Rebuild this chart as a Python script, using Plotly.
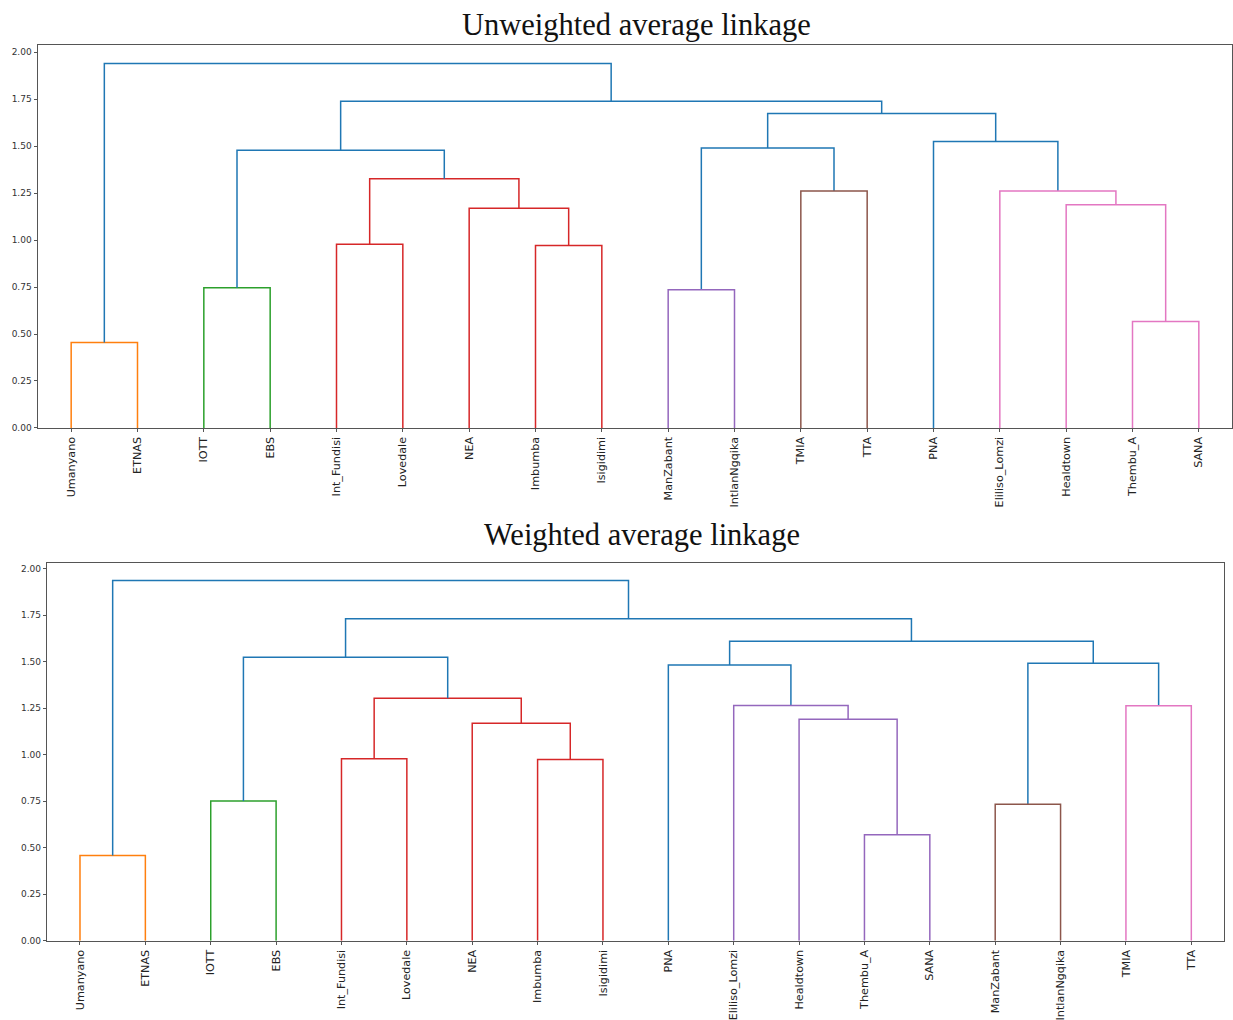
import plotly.graph_objects as go

# ---------------- data ----------------
# Unweighted average linkage (UPGMA)
leaves_unweighted = ["Umanyano", "ETNAS", "IOTT", "EBS", "Int_Fundisi", "Lovedale", "NEA",
                     "Imbumba", "Isigidimi", "ManZabant", "IntlanNgqika", "TMIA", "TTA", "PNA",
                     "Eliliso_Lomzi", "Healdtown", "Thembu_A", "SANA"]
# merges: (left child, right child); ids >= 18 refer to earlier merges (18 + row)
left_unweighted = [0, 2, 4, 7, 6, 20, 19, 9, 11, 25, 16, 15, 14, 13, 27, 24, 18]
right_unweighted = [1, 3, 5, 8, 21, 22, 23, 10, 12, 26, 17, 28, 29, 30, 31, 32, 33]
height_unweighted = [0.455, 0.746, 0.978, 0.971, 1.169, 1.326, 1.478, 0.735, 1.261, 1.490,
                     0.567, 1.188, 1.261, 1.525, 1.674, 1.739, 1.940]
cluster_unweighted = ["C1", "C2", "C3", "C3", "C3", "C3", "C0", "C4", "C5", "C0",
                      "C6", "C6", "C6", "C0", "C0", "C0", "C0"]

# Weighted average linkage (WPGMA)
leaves_weighted = ["Umanyano", "ETNAS", "IOTT", "EBS", "Int_Fundisi", "Lovedale", "NEA",
                   "Imbumba", "Isigidimi", "PNA", "Eliliso_Lomzi", "Healdtown", "Thembu_A",
                   "SANA", "ManZabant", "IntlanNgqika", "TMIA", "TTA"]
left_weighted = [0, 2, 4, 7, 6, 20, 19, 12, 11, 10, 9, 14, 16, 29, 28, 24, 18]
right_weighted = [1, 3, 5, 8, 21, 22, 23, 13, 25, 26, 27, 15, 17, 30, 31, 32, 33]
height_weighted = [0.459, 0.751, 0.978, 0.974, 1.170, 1.304, 1.524, 0.570, 1.191, 1.265,
                   1.482, 0.734, 1.263, 1.492, 1.610, 1.731, 1.937]
cluster_weighted = ["C1", "C2", "C3", "C3", "C3", "C3", "C0", "C4", "C4", "C4",
                    "C0", "C5", "C6", "C0", "C0", "C0", "C0"]

y_ticks = [0.0, 0.25, 0.5, 0.75, 1.0, 1.25, 1.5, 1.75, 2.0]

# ---------------- style ----------------
PALETTE = {"C0": "#1f77b4", "C1": "#ff7f0e", "C2": "#2ca02c", "C3": "#d62728",
           "C4": "#9467bd", "C5": "#8c564b", "C6": "#e377c2"}
W, H = 1233, 1020
AXIS_COLOR = "#555555"
TICK_FONT = dict(family="DejaVu Sans", size=9, color="#333333")
LEAF_FONT = dict(family="DejaVu Sans", size=11.2, color="#222222")
TITLE_FONT = dict(family="Liberation Serif", size=30.5, color="#111111")


def dendro_traces(leaves, left, right, heights, clusters, xa, ya):
    n = len(leaves)
    xpos = {i: 5 + 10 * i for i in range(n)}
    ypos = {i: 0.0 for i in range(n)}
    segs = {}
    for k, (a, b, h, c) in enumerate(zip(left, right, heights, clusters)):
        xa_, xb_ = xpos[a], xpos[b]
        xs, ys = segs.setdefault(c, ([], []))
        xs += [xa_, xa_, xb_, xb_, None]
        ys += [ypos[a], h, h, ypos[b], None]
        xpos[n + k] = (xa_ + xb_) / 2
        ypos[n + k] = h
    traces = []
    for c, (xs, ys) in segs.items():
        traces.append(go.Scatter(x=xs, y=ys, mode="lines", xaxis=xa, yaxis=ya,
                                 line=dict(color=PALETTE[c], width=1.5),
                                 hoverinfo="skip", showlegend=False))
    return traces


fig = go.Figure()
for t in dendro_traces(leaves_unweighted, left_unweighted, right_unweighted,
                       height_unweighted, cluster_unweighted, "x", "y"):
    fig.add_trace(t)
for t in dendro_traces(leaves_weighted, left_weighted, right_weighted,
                       height_weighted, cluster_weighted, "x2", "y2"):
    fig.add_trace(t)


def xaxis_cfg(leaves, domain, anchor):
    return dict(domain=domain, anchor=anchor, range=[0, 10 * len(leaves)],
                tickmode="array", tickvals=[5 + 10 * i for i in range(len(leaves))],
                ticktext=leaves, tickangle=-90, tickfont=LEAF_FONT,
                ticks="outside", ticklen=3.5, tickcolor=AXIS_COLOR, tickwidth=1,
                showline=True, linecolor=AXIS_COLOR, linewidth=1, mirror=True,
                showgrid=False, zeroline=False, fixedrange=True)


def yaxis_cfg(domain, anchor, top):
    return dict(domain=domain, anchor=anchor, range=[0, top],
                tickmode="array", tickvals=y_ticks, tickformat=".2f",
                tickfont=TICK_FONT, ticks="outside", ticklen=3.5,
                tickcolor=AXIS_COLOR, tickwidth=1,
                showline=True, linecolor=AXIS_COLOR, linewidth=1, mirror=True,
                showgrid=False, zeroline=False, fixedrange=True)


fig.update_layout(
    width=W, height=H,
    margin=dict(l=0, r=0, t=0, b=0),
    paper_bgcolor="white", plot_bgcolor="white",
    xaxis=xaxis_cfg(leaves_unweighted, [38 / W, 1232 / W], "y"),
    yaxis=yaxis_cfg([1 - 433 / H, 1 - 45.5 / H], "x", 2.039),
    xaxis2=xaxis_cfg(leaves_weighted, [47.3 / W, 1224 / W], "y2"),
    yaxis2=yaxis_cfg([1 - 952 / H, 1 - 569.5 / H], "x2", 2.032),
    annotations=[
        dict(text="Unweighted average linkage", x=636.5 / W, y=1 - 25.5 / H,
             xref="paper", yref="paper", xanchor="center", yanchor="middle",
             showarrow=False, font=TITLE_FONT),
        dict(text="Weighted average linkage", x=642 / W, y=1 - 541 / H,
             xref="paper", yref="paper", xanchor="center", yanchor="middle",
             showarrow=False, font=TITLE_FONT),
    ],
)

fig.write_html("out.html", config={"displayModeBar": False, "staticPlot": True})

# remove the browser's default page margin so the figure sits at the window origin
with open("out.html", "r", encoding="utf-8") as f:
    html = f.read()
html = html.replace("<body>", '<body style="margin:0;padding:0;overflow:hidden">', 1)
with open("out.html", "w", encoding="utf-8") as f:
    f.write(html)
